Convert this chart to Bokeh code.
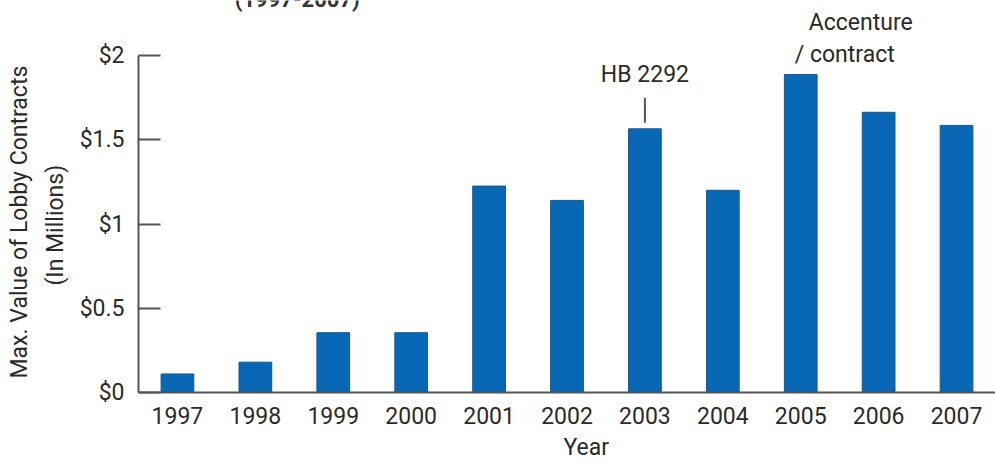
from bokeh.plotting import figure
from bokeh.models import FactorRange, Range1d, FixedTicker, Title
from bokeh.core.properties import value
from bokeh.embed import file_html
from bokeh.resources import INLINE

# ---- data ----
years = ["1997", "1998", "1999", "2000", "2001", "2002", "2003", "2004", "2005", "2006", "2007"]
max_value_millions = [0.11, 0.18, 0.355, 0.355, 1.225, 1.14, 1.565, 1.20, 1.887, 1.663, 1.585]
y_ticks = [0, 0.5, 1, 1.5, 2]
y_tick_labels = ["$0", "$0.5", "$1", "$1.5", "$2"]
y_title_lines = ["Max. Value of Lobby Contracts", "(In Millions)"]
x_title = "Year"
title_fragment = "(1997-2007)"
annotations = [("2003", "HB 2292"), ("2005", "Accenture"), ("2005", "/ contract")]

FONT = "Roboto"
TXT = "#2a2a2a"
AX = "#555555"
BAR = "#0868b5"

FRAME_H = 392
PX_PER_UNIT = 168.5
y_end = FRAME_H / PX_PER_UNIT
BASE_FIX = 8  # px correction for text baseline

p = figure(width=995, height=468, output_backend="svg", toolbar_location=None,
           x_range=FactorRange(*years, range_padding=0),
           y_range=Range1d(0, y_end),
           min_border_left=138, min_border_right=0, min_border_top=0, min_border_bottom=76)
p.outline_line_color = None
p.grid.grid_line_color = None
p.background_fill_color = "white"

p.vbar(x=years, top=max_value_millions, width=0.42, fill_color=BAR,
       line_color="#17568c", line_width=1)

# y axis
ya = p.yaxis[0]
ya.ticker = FixedTicker(ticks=y_ticks)
ya.major_label_overrides = {t: l for t, l in zip(y_ticks, y_tick_labels)}
ya.bounds = (0, 2)
ya.axis_line_color = AX
ya.axis_line_width = 2
ya.major_tick_line_color = AX
ya.major_tick_line_width = 2
ya.major_tick_in = 22
ya.major_tick_out = 0
ya.minor_tick_line_color = None
ya.major_label_standoff = 14
ya.major_label_text_font = FONT
ya.major_label_text_font_size = "23px"
ya.major_label_text_color = TXT

# x axis
xa = p.xaxis[0]
xa.axis_line_color = AX
xa.axis_line_width = 2
xa.major_tick_line_color = None
xa.minor_tick_line_color = None
xa.major_label_standoff = 8
xa.major_label_text_font = FONT
xa.major_label_text_font_size = "23px"
xa.major_label_text_color = TXT

def off(px):
    return (px + BASE_FIX) / PX_PER_UNIT

v = dict(zip(years, max_value_millions))

# HB 2292 annotation
p.segment(x0=[annotations[0][0]], y0=[v[annotations[0][0]] + 6 / PX_PER_UNIT],
          x1=[annotations[0][0]], y1=[v[annotations[0][0]] + 31 / PX_PER_UNIT],
          line_color=AX, line_width=2)
p.text(x=[annotations[0][0]], y=[v[annotations[0][0]] + off(46)], text=[annotations[0][1]],
       text_align="center", text_baseline="alphabetic", text_font=value(FONT),
       text_font_size="23px", text_color=TXT)
# Accenture / contract
p.text(x=[annotations[1][0]], y=[v[annotations[1][0]] + off(44)], text=[annotations[1][1]],
       x_offset=8, text_align="left", text_baseline="alphabetic", text_font=value(FONT),
       text_font_size="23px", text_color=TXT)
p.text(x=[annotations[2][0]], y=[v[annotations[2][0]] + off(12)], text=[annotations[2][1]],
       x_offset=-6, text_align="left", text_baseline="alphabetic", text_font=value(FONT),
       text_font_size="23px", text_color=TXT)

# cut-off chart title at the top edge (as in the reference)
p.text(x=[years[2]], y=[(FRAME_H - 7 + BASE_FIX) / PX_PER_UNIT], text=[title_fragment],
       x_offset=-36, text_align="center", text_baseline="alphabetic", text_font=value(FONT),
       text_font_style="bold", text_font_size="22px", text_color="#333333")

# axis titles as Title panels
t_line2 = Title(text=y_title_lines[1], align="left", offset=107, text_font=FONT,
                text_font_size="23px", text_font_style="normal", text_color=TXT, standoff=15)
t_line1 = Title(text=y_title_lines[0], align="left", offset=14, text_font=FONT,
                text_font_size="23px", text_font_style="normal", text_color=TXT, standoff=0)
p.add_layout(t_line2, "left")
p.add_layout(t_line1, "left")
t_x = Title(text=x_title, align="left", offset=425, text_font=FONT, text_font_size="23px",
            text_font_style="normal", text_color=TXT, standoff=11)
p.add_layout(t_x, "below")

open("out.html", "w").write(file_html(p, INLINE))
